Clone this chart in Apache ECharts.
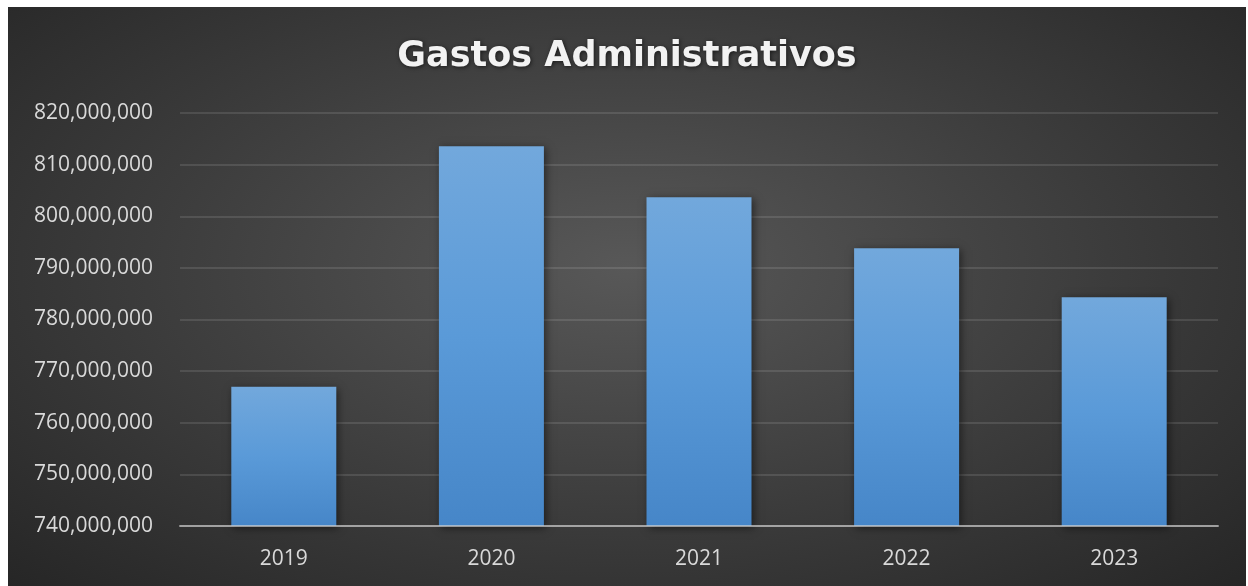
<!DOCTYPE html>
<html>
<head>
<meta charset="utf-8">
<script src="https://cdn.jsdelivr.net/npm/echarts@6/dist/echarts.min.js"></script>
<style>
  html, body { margin: 0; padding: 0; background: #ffffff; width: 1248px; height: 586px; overflow: hidden; }
  #chart {
    position: absolute; left: 8px; top: 7px; width: 1238px; height: 579px;
    background: radial-gradient(ellipse at 50% 45%, #585858 0%, #3c3c3c 55%, #262626 100%);
  }
</style>
</head>
<body>
<div id="chart"></div>
<script>
// Administrative expenses per year
const years = ['2019', '2020', '2021', '2022', '2023'];
const gastos = [766960000, 813550000, 803700000, 793800000, 784300000];
const yMin = 740000000;
const yMax = 820000000;
const yStep = 10000000;

const chart = echarts.init(document.getElementById('chart'), null, { renderer: 'canvas' });

const fontFamily = '"Open Sans", "Noto Sans", sans-serif';

chart.setOption({
  backgroundColor: 'transparent',
  animation: false,
  title: {
    text: 'Gastos Administrativos',
    left: 'center',
    top: 27,
    textStyle: {
      color: '#f2f2f2',
      fontFamily: '"DejaVu Sans", sans-serif',
      fontWeight: 'bold',
      fontSize: 35,
      textShadowColor: 'rgba(0,0,0,0.6)',
      textShadowBlur: 4,
      textShadowOffsetX: 1,
      textShadowOffsetY: 1
    }
  },
  grid: { left: 172, right: 28, top: 106, bottom: 60 },
  xAxis: {
    type: 'category',
    data: years,
    axisLine: { show: true, lineStyle: { color: 'rgba(210,210,210,0.65)', width: 2 } },
    axisTick: { show: false },
    axisLabel: { color: '#d9d9d9', fontSize: 21, fontFamily: fontFamily, margin: 23 },
    z: 5
  },
  yAxis: {
    type: 'value',
    min: yMin,
    max: yMax,
    interval: yStep,
    axisLine: { show: false },
    axisTick: { show: false },
    splitLine: { lineStyle: { color: 'rgba(255,255,255,0.11)', width: 2 } },
    axisLabel: {
      color: '#d9d9d9',
      fontSize: 21,
      fontFamily: fontFamily,
      margin: 27,
      formatter: v => v.toLocaleString('en-US')
    }
  },
  series: [{
    type: 'bar',
    data: gastos,
    barWidth: 105,
    itemStyle: {
      color: {
        type: 'linear', x: 0, y: 0, x2: 0, y2: 1,
        colorStops: [
          { offset: 0, color: '#72a8dc' },
          { offset: 0.5, color: '#5a9ad8' },
          { offset: 1, color: '#4686c8' }
        ]
      },
      shadowColor: 'rgba(0,0,0,0.5)',
      shadowBlur: 8,
      shadowOffsetX: 2,
      shadowOffsetY: 2
    }
  }]
});
</script>
</body>
</html>
